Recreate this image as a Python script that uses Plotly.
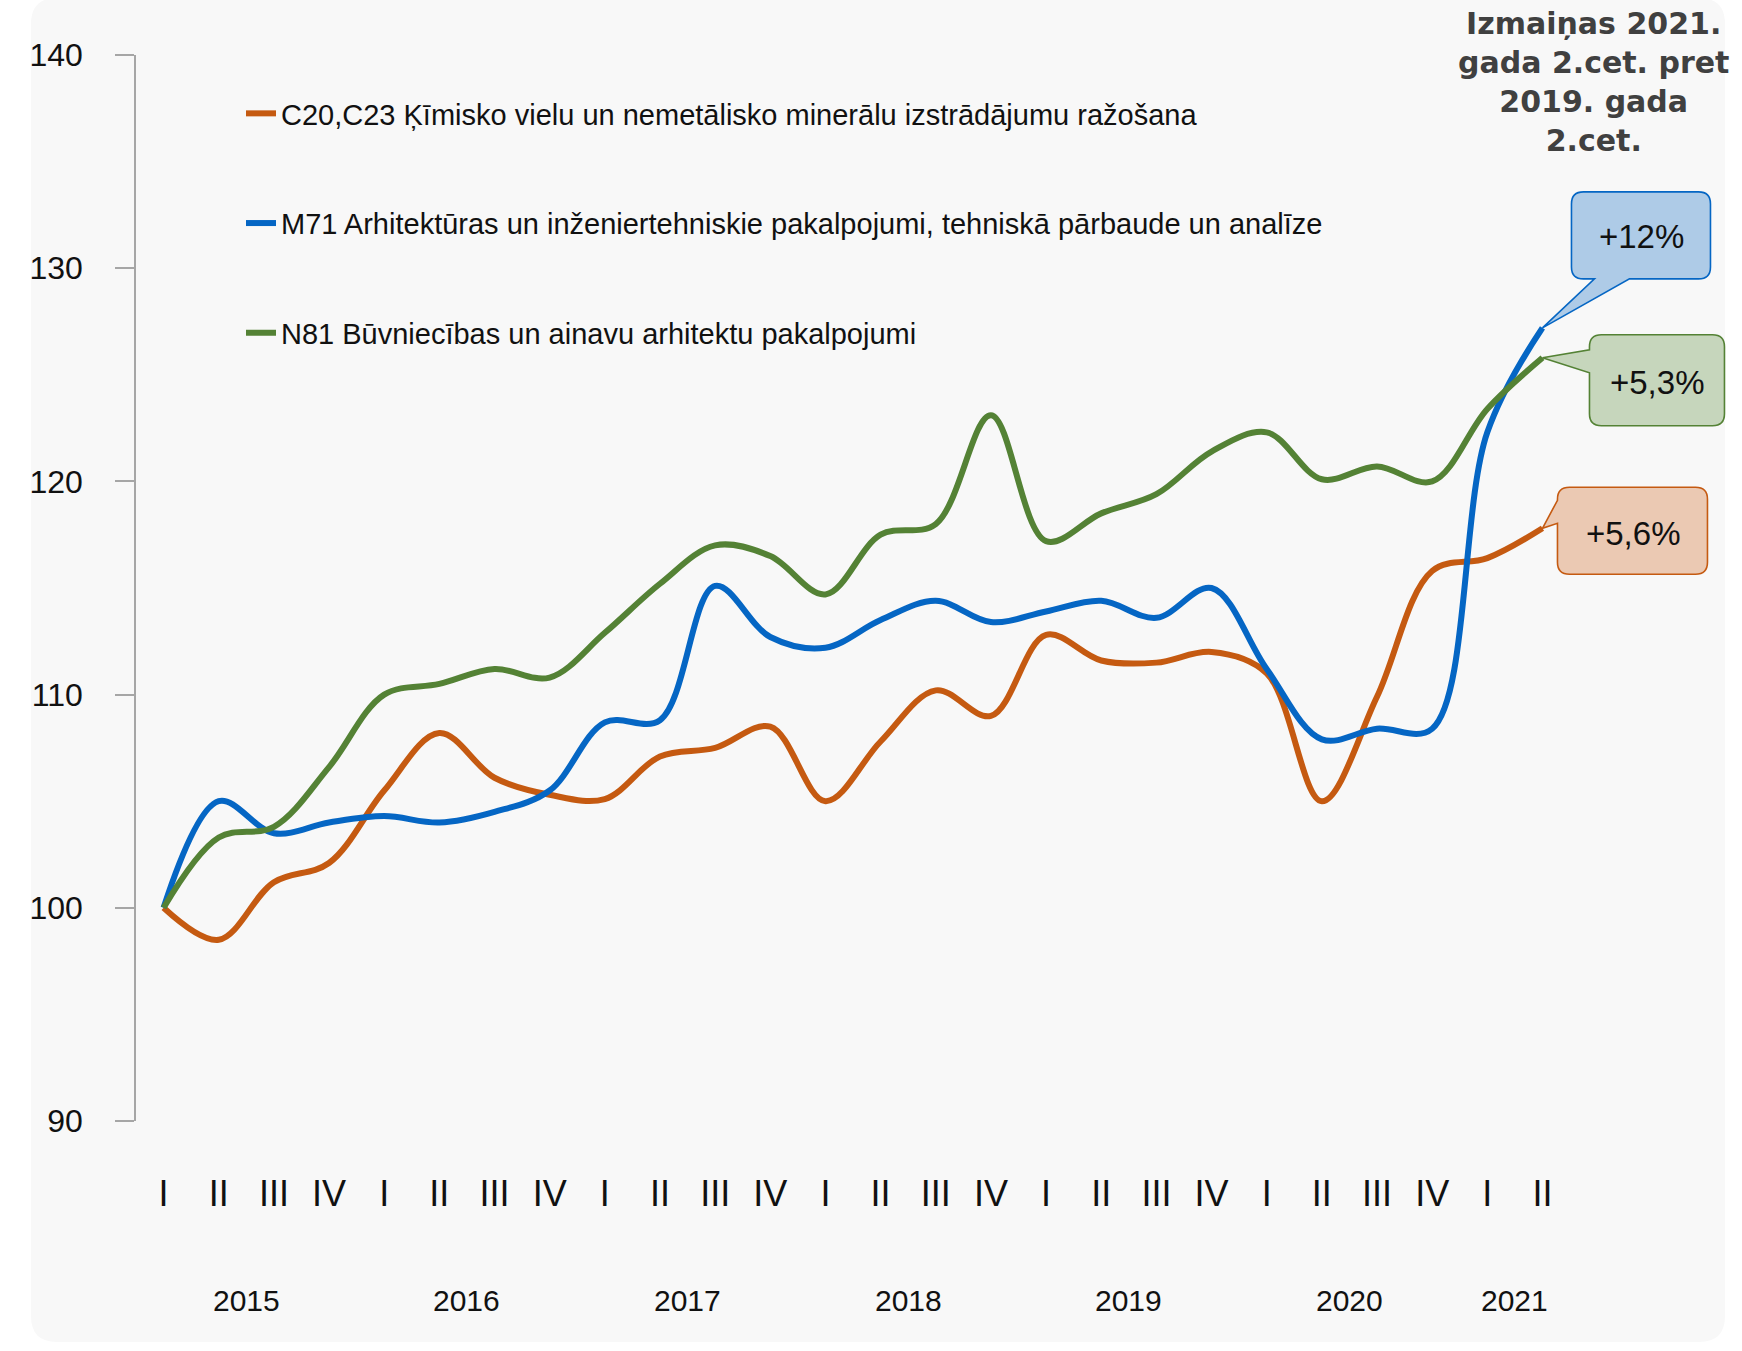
import plotly.graph_objects as go

# ---------------- data ----------------
quarters = ["I", "II", "III", "IV"] * 6 + ["I", "II"]
years = ["2015", "2016", "2017", "2018", "2019", "2020", "2021"]
quarters_per_year = [4, 4, 4, 4, 4, 4, 2]

c20_c23 = [100, 98.5, 101.2, 102.1, 105.5, 108.2, 106.1, 105.3, 105.1, 107.1, 107.5, 108.5, 105.0,
           107.8, 110.2, 109.0, 112.8, 111.6, 111.5, 112.0, 111.0, 105.0, 109.9, 115.8, 116.4, 117.8]
m71 = [100, 105.0, 103.5, 104.0, 104.3, 104.0, 104.5, 105.5, 108.7, 108.8, 115.1, 112.7, 112.2,
       113.5, 114.4, 113.4, 113.9, 114.4, 113.6, 115.0, 111.2, 107.9, 108.4, 108.4, 122.3, 127.2]
n81 = [100, 103.3, 103.8, 106.6, 110.0, 110.5, 111.2, 110.8, 112.9, 115.2, 117.0, 116.5, 114.7,
       117.5, 118.0, 123.1, 117.2, 118.5, 119.4, 121.4, 122.3, 120.1, 120.7, 120.0, 123.4, 125.8]

names = [
    "C20,C23 Ķīmisko vielu un nemetālisko minerālu izstrādājumu ražošana",
    "M71 Arhitektūras un inženiertehniskie pakalpojumi, tehniskā pārbaude un analīze",
    "N81 Būvniecības un ainavu arhitektu pakalpojumi",
]
change_labels = ["+5,6%", "+12%", "+5,3%"]
title_text = "Izmaiņas 2021.<br>gada 2.cet. pret<br>2019. gada<br>2.cet."

y_ticks = [90, 100, 110, 120, 130, 140]

# ---------------- styling / layout ----------------
W, H = 1742, 1351
ML, MR, MT, MB = 136, 12, 55, 230
PW, PH = W - ML - MR, H - MT - MB
XR = [-0.5, 28.4]
YR = [90, 140]

COND = "Liberation Sans Narrow, Arial Narrow, Liberation Sans, Arial, sans-serif"
colors = ["#C55A11", "#0566C4", "#548235"]
fills = ["#EBC9B3", "#AECBE7", "#C6D6BC"]
TXT = "#111111"


def px_to_paper(X, Y):
    return (X - ML) / PW, (H - MB - Y) / PH


def px_to_data(X, Y):
    return (XR[0] + (X - ML) / PW * (XR[1] - XR[0]),
            YR[1] - (Y - MT) / PH * (YR[1] - YR[0]))


def data_to_px(x, y):
    return (ML + (x - XR[0]) / (XR[1] - XR[0]) * PW,
            MT + (YR[1] - y) / (YR[1] - YR[0]) * PH)


def path_from_px(cmds, conv):
    out = []
    for c in cmds:
        op = c[0]
        pts = c[1:]
        coords = []
        for i in range(0, len(pts), 2):
            a, b = conv(pts[i], pts[i + 1])
            coords.append(f"{a:.5f},{b:.5f}")
        out.append(op + " ".join(coords))
    return " ".join(out) + " Z"


def rounded_rect_cmds(L, T, R, B, r):
    return [("M", L + r, T), ("L", R - r, T), ("Q", R, T, R, T + r), ("L", R, B - r),
            ("Q", R, B, R - r, B), ("L", L + r, B), ("Q", L, B, L, B - r),
            ("L", L, T + r), ("Q", L, T, L + r, T)]


def callout_cmds(tip, box, side, a, b, r=12):
    tx, ty = tip
    L, T, R, B = box
    if side == "bottom":
        return [("M", L + r, T), ("L", R - r, T), ("Q", R, T, R, T + r), ("L", R, B - r),
                ("Q", R, B, R - r, B), ("L", b, B), ("L", tx, ty), ("L", a, B),
                ("L", L + r, B), ("Q", L, B, L, B - r), ("L", L, T + r), ("Q", L, T, L + r, T)]
    return [("M", L + r, T), ("L", R - r, T), ("Q", R, T, R, T + r), ("L", R, B - r),
            ("Q", R, B, R - r, B), ("L", L + r, B), ("Q", L, B, L, B - r), ("L", L, b),
            ("L", tx, ty), ("L", L, a), ("L", L, T + r), ("Q", L, T, L + r, T)]


x_idx = list(range(len(quarters)))
series = [c20_c23, m71, n81]

fig = go.Figure()
for i, (s, nm) in enumerate(zip(series, names)):
    fig.add_trace(go.Scatter(
        x=x_idx, y=s, name=nm, mode="lines", legendgroup=f"g{i}",
        line=dict(color=colors[i], width=6, shape="spline", smoothing=1.0),
        hoverinfo="skip",
    ))

shapes = []
# background panel
bg = rounded_rect_cmds(31, -2, 1725, 1342, 26)
shapes.append(dict(type="path", xref="paper", yref="paper", layer="below",
                   path=path_from_px(bg, px_to_paper), fillcolor="#F8F8F8",
                   line=dict(width=0)))

# callouts (offsets in px relative to the end point of each series)
callout_specs = [
    ((15, -41, 165, 46), "left", -28, -5, (91, 5)),
    ((29, -136, 168, -49), "bottom", 52, 87, (99, -91)),
    ((47, -23, 182, 68), "left", -8, 15, (115, 25)),
]
annotations = []
for i, (s, spec) in enumerate(zip(series, callout_specs)):
    tx, ty = data_to_px(x_idx[-1], s[-1])
    (dL, dT, dR, dB), side, a, b, (ox, oy) = spec
    box = (tx + dL, ty + dT, tx + dR, ty + dB)
    if side == "bottom":
        a, b = tx + a, tx + b
    else:
        a, b = ty + a, ty + b
    cmds = callout_cmds((tx, ty), box, side, a, b)
    shapes.append(dict(type="path", xref="x", yref="y", layer="above",
                       path=path_from_px(cmds, px_to_data), fillcolor=fills[i],
                       line=dict(color=colors[i], width=1.6)))
    cx, cy = px_to_data(tx + ox, ty + oy)
    annotations.append(dict(x=cx, y=cy, xref="x", yref="y", text=change_labels[i],
                            showarrow=False, xanchor="center", yanchor="middle",
                            font=dict(family=COND, size=33, color=TXT)))

# year labels
start = 0
for yr, n in zip(years, quarters_per_year):
    mid = start + (n - 1) / 2
    start += n
    annotations.append(dict(x=mid, y=px_to_paper(0, 1300)[1], xref="x", yref="paper",
                            text=yr, showarrow=False, xanchor="center", yanchor="middle",
                            font=dict(family=COND, size=30, color=TXT)))

# title
tx_p, ty_p = px_to_paper(1593, 4)
annotations.append(dict(x=tx_p, y=ty_p, xref="paper", yref="paper", text=title_text,
                        showarrow=False, xanchor="center", yanchor="top", align="center",
                        font=dict(family="DejaVu Sans, Verdana, sans-serif", size=30,
                                  color="#404040", weight="bold")))

lx, ly = px_to_paper(241, 88)
fig.update_layout(
    width=W, height=H,
    margin=dict(l=ML, r=MR, t=MT, b=MB, autoexpand=False),
    paper_bgcolor="white", plot_bgcolor="rgba(0,0,0,0)",
    showlegend=True,
    legend=dict(x=lx, y=ly, xanchor="left", yanchor="top", bgcolor="rgba(0,0,0,0)",
                font=dict(family=COND, size=29, color=TXT),
                tracegroupgap=69, itemclick=False, itemdoubleclick=False),
    xaxis=dict(range=XR, tickmode="array", tickvals=x_idx, ticktext=quarters,
               showgrid=False, zeroline=False, showline=False, ticks="",
               ticklabelstandoff=48,
               tickfont=dict(family=COND, size=36, color=TXT)),
    yaxis=dict(range=YR, tickmode="array", tickvals=y_ticks, showgrid=False,
               zeroline=False, showline=True, linecolor="#A6A6A6", linewidth=1.5,
               ticks="outside", ticklen=19, tickcolor="#A6A6A6", tickwidth=1.5,
               ticklabelstandoff=26,
               tickfont=dict(family=COND, size=32, color=TXT)),
    shapes=shapes, annotations=annotations,
)

fig.write_html("out.html", config={"displayModeBar": False},
               post_script="document.body.style.margin='0';")
